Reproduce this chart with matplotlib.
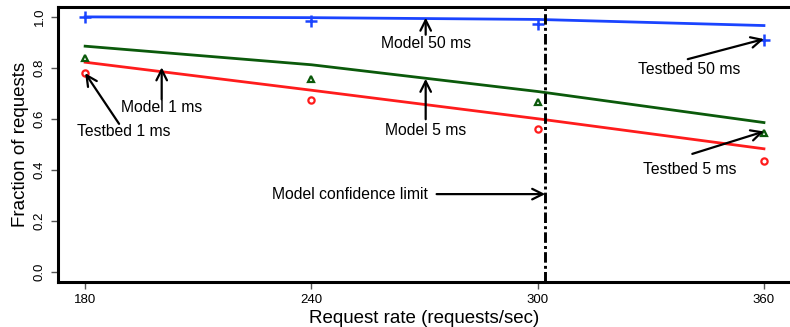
import numpy as np
import matplotlib
matplotlib.use("Agg")
from matplotlib import pyplot as plt

plt.rcParams['font.family'] = ['Liberation Sans', 'DejaVu Sans']

rates = [180, 240, 300, 360]

# model curves
model_1ms = [0.822, 0.712, 0.600, 0.482]
model_5ms = [0.885, 0.812, 0.707, 0.585]
model_50ms = [1.000, 0.997, 0.990, 0.966]

# testbed measurements
testbed_1ms = [0.779, 0.673, 0.561, 0.435]
testbed_5ms = [0.838, 0.755, 0.664, 0.545]
testbed_50ms = [1.000, 0.984, 0.974, 0.909]

confidence_limit = 302
xticks = [180, 240, 300, 360]
yticks = [0.0, 0.2, 0.4, 0.6, 0.8, 1.0]

blue = '#1a44ff'
green = '#0b5a0b'
red = '#ff1c1c'

fig = plt.figure(figsize=(7.9, 3.27), dpi=100)
ax = fig.add_axes([0.0734, 0.1385, 0.928, 0.841])

ax.plot(rates, model_50ms, color=blue, lw=2)
ax.plot(rates, model_5ms, color=green, lw=2)
ax.plot(rates, model_1ms, color=red, lw=2)

ax.plot(rates, testbed_50ms, '+', color=blue, ms=8, mew=1.8)
ax.plot(rates, testbed_5ms, '^', color=green, ms=5, mew=1.6, mfc='none')
ax.plot(rates, testbed_1ms, 'o', color=red, ms=4.5, mew=1.6, mfc='none')

ax.axvline(confidence_limit, color='black', lw=2.1, dashes=[3.6, 1.1, 1, 1.1])

ax.set_xlim(172.8, 367.2)
ax.set_ylim(-0.04, 1.04)
ax.set_xticks(xticks)
ax.set_yticks(yticks)
ax.set_xticklabels([str(t) for t in xticks], fontsize=9.5)
ax.set_yticklabels(['%.1f' % t for t in yticks], fontsize=9.5, rotation=90, va='center')
ax.tick_params(axis='both', length=5, width=1, color='#555555', pad=4)
for s in ax.spines.values():
    s.set_linewidth(2.2)

ax.set_xlabel('Request rate (requests/sec)', fontsize=13.5, labelpad=3)
ax.set_ylabel('Fraction of requests', fontsize=13.5, labelpad=3)

arrow = dict(arrowstyle='->', lw=1.6, color='black', mutation_scale=19, shrinkA=0, shrinkB=0)
fs = 11.3

ax.text(270.3, 0.897, 'Model 50 ms', ha='center', va='center', fontsize=fs)
ax.annotate('', xy=(270.3, 0.997), xytext=(270.3, 0.93), arrowprops=arrow)

ax.text(270.3, 0.553, 'Model 5 ms', ha='center', va='center', fontsize=fs)
ax.annotate('', xy=(270.3, 0.757), xytext=(270.3, 0.598), arrowprops=arrow)

ax.text(200.3, 0.644, 'Model 1 ms', ha='center', va='center', fontsize=fs)
ax.annotate('', xy=(200.3, 0.802), xytext=(200.3, 0.676), arrowprops=arrow)

ax.text(190.2, 0.55, 'Testbed 1 ms', ha='center', va='center', fontsize=fs)
ax.annotate('', xy=(180, 0.779), xytext=(189, 0.58), arrowprops=arrow)

ax.text(340.3, 0.794, 'Testbed 50 ms', ha='center', va='center', fontsize=fs)
ax.annotate('', xy=(360, 0.913), xytext=(339.8, 0.834), arrowprops=arrow)

ax.text(340.3, 0.40, 'Testbed 5 ms', ha='center', va='center', fontsize=fs)
ax.annotate('', xy=(360, 0.55), xytext=(341, 0.462), arrowprops=arrow)

ax.text(250.2, 0.304, 'Model confidence limit', ha='center', va='center', fontsize=fs)
ax.annotate('', xy=(confidence_limit, 0.304), xytext=(273.2, 0.304), arrowprops=arrow)

fig.savefig('out.png', dpi=100)
